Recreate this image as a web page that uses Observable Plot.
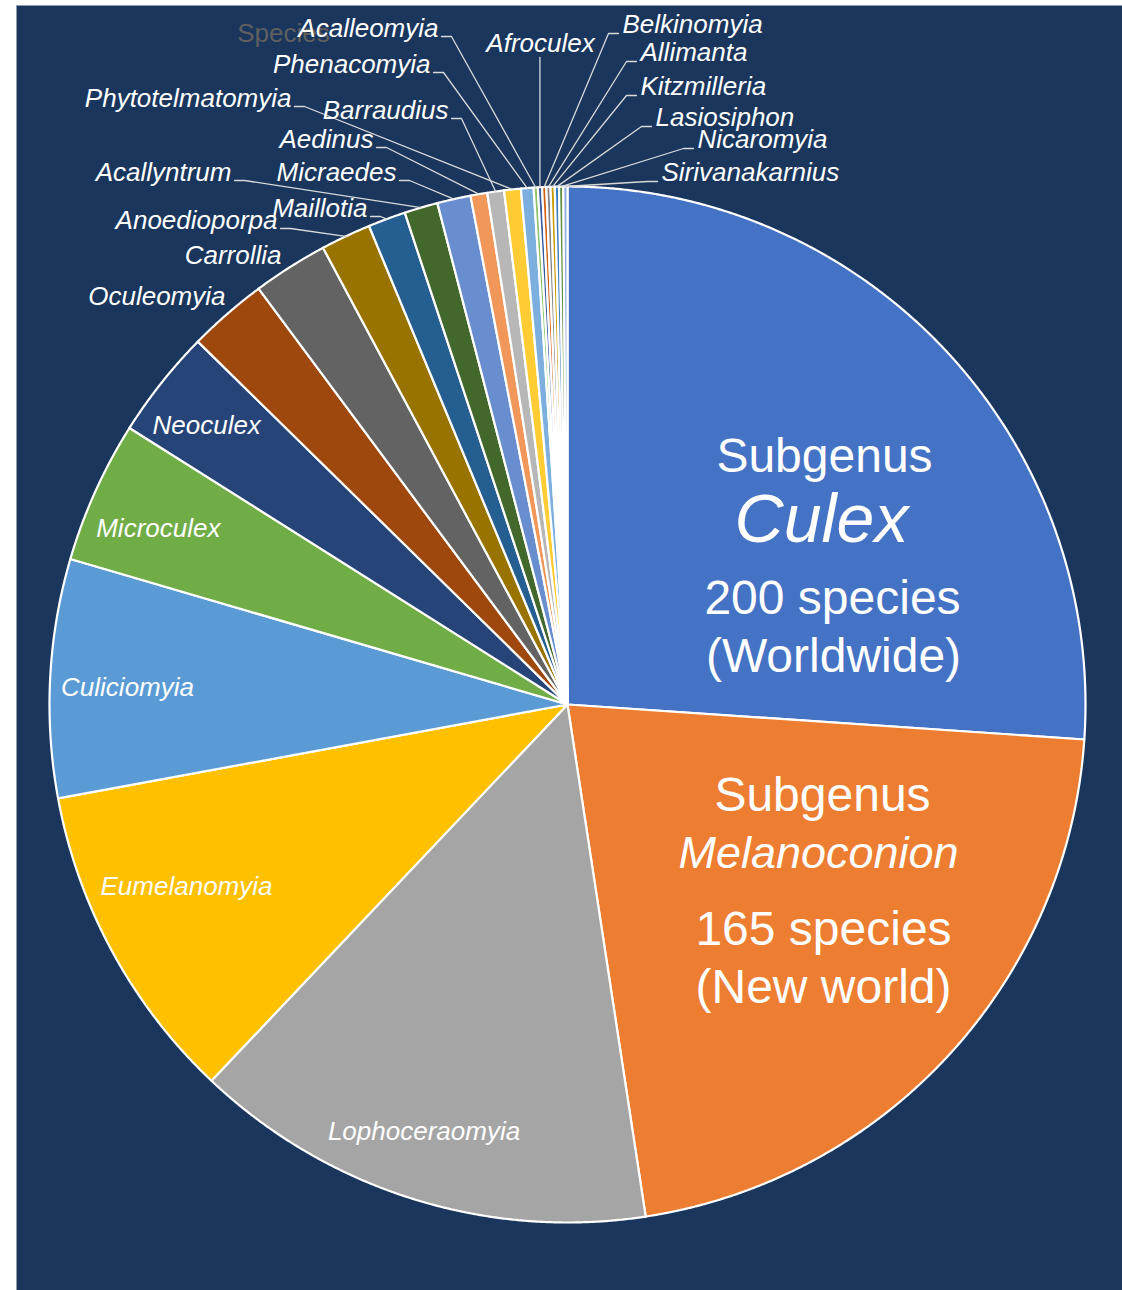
<!DOCTYPE html>
<html>
<head>
<meta charset="utf-8">
<script src="https://cdn.jsdelivr.net/npm/d3@7"></script>
<script src="https://cdn.jsdelivr.net/npm/@observablehq/plot@0.6"></script>
<style>
  html, body { margin: 0; padding: 0; background: #ffffff; }
  #chart svg { display: block; }
</style>
</head>
<body>
<div id="chart"></div>
<script>
// Subgenera of the genus Culex and their number of described species
const subgenera = [
  "Culex", "Melanoconion", "Lophoceraomyia", "Eumelanomyia", "Culiciomyia",
  "Microculex", "Neoculex", "Oculeomyia", "Carrollia", "Anoedioporpa",
  "Maillotia", "Acallyntrum", "Micraedes", "Aedinus", "Barraudius",
  "Phytotelmatomyia", "Phenacomyia", "Acalleomyia", "Afroculex", "Belkinomyia",
  "Allimanta", "Kitzmilleria", "Lasiosiphon", "Nicaromyia", "Sirivanakarnius"
];
const species = [200, 165, 111, 77, 57, 34, 26, 19, 18, 12, 9, 8, 8, 4, 4, 4, 3, 1, 1, 1, 1, 1, 1, 1, 1];
const ranges = { Culex: "Worldwide", Melanoconion: "New world" };
const seriesName = "Species";

// Office-style slice palette, in slice order
const sliceColors = [
  "#4472C4", "#ED7D31", "#A5A5A5", "#FFC000", "#5B9BD5", "#70AD47", "#264478",
  "#9E480E", "#636363", "#997300", "#255E91", "#43682B", "#698ED0", "#F1975A",
  "#B7B7B7", "#FFCD33", "#7CAFDD", "#8CC168", "#335AA1", "#D26012", "#848484",
  "#CC9A00", "#3A7DBF", "#5E8E3E", "#8FAADC"
];

// ---- layout -------------------------------------------------------------
const W = 1122, H = 1290;
const CX = 567, CY = 704, R = 518;          // pie centre and radius (px)
const BG = "#1a365d";
const FONT = "'Liberation Sans', Arial, sans-serif";
const LABEL_SIZE = 26;
const px = (x, y) => ({x: x - CX, y: CY - y}); // page px -> chart units

// labels drawn inside their slices: radius fraction and small angular nudge (deg)
const insideLabels = [
  {name: "Lophoceraomyia", r: 0.87, nudge: 1.2},
  {name: "Eumelanomyia", r: 0.815, nudge: 3},
  {name: "Culiciomyia", r: 0.85, nudge: -0.7},
  {name: "Microculex", r: 0.86, nudge: -1},
  {name: "Neoculex", r: 0.88, nudge: -0.7}
];
// labels set outside the pie: anchor position on the page and text alignment
const outsideLabels = [
  {name: "Oculeomyia", x: 225, y: 296, anchor: "end", leader: false},
  {name: "Carrollia", x: 281, y: 255, anchor: "end", leader: false},
  {name: "Anoedioporpa", x: 277, y: 220, anchor: "end", leader: true},
  {name: "Maillotia", x: 367, y: 208, anchor: "end", leader: true},
  {name: "Acallyntrum", x: 231, y: 172, anchor: "end", leader: true},
  {name: "Micraedes", x: 396, y: 172, anchor: "end", leader: true},
  {name: "Aedinus", x: 373, y: 139, anchor: "end", leader: true},
  {name: "Barraudius", x: 448, y: 110, anchor: "end", leader: true},
  {name: "Phytotelmatomyia", x: 291, y: 98, anchor: "end", leader: true},
  {name: "Phenacomyia", x: 430, y: 64, anchor: "end", leader: true},
  {name: "Acalleomyia", x: 438, y: 28, anchor: "end", leader: true},
  {name: "Afroculex", x: 540, y: 43, anchor: "middle", leader: true},
  {name: "Belkinomyia", x: 622, y: 24, anchor: "start", leader: true},
  {name: "Allimanta", x: 640, y: 52, anchor: "start", leader: true},
  {name: "Kitzmilleria", x: 640, y: 86, anchor: "start", leader: true},
  {name: "Lasiosiphon", x: 655, y: 117, anchor: "start", leader: true},
  {name: "Nicaromyia", x: 697, y: 139, anchor: "start", leader: true},
  {name: "Sirivanakarnius", x: 661, y: 172, anchor: "start", leader: true}
];
// text blocks for the two largest subgenera
const headline = [
  {name: "Culex", lines: [
    {kind: "sub", x: 824, y: 456}, {kind: "name", x: 821, y: 520, size: 68},
    {kind: "count", x: 832, y: 598}, {kind: "range", x: 833, y: 656}]},
  {name: "Melanoconion", lines: [
    {kind: "sub", x: 822, y: 795}, {kind: "name", x: 818, y: 853, size: 45},
    {kind: "count", x: 823, y: 929}, {kind: "range", x: 823, y: 987}]}
];

// ---- geometry from the data ------------------------------------------------
const rows = subgenera.map((name, i) => ({name, count: species[i], color: sliceColors[i]}));
const arcs = d3.pie().sort(null).value(d => d.count).startAngle(0).endAngle(2 * Math.PI)(rows);
const arcByName = new Map(arcs.map(a => [a.data.name, a]));
const polar = (a, r) => ({x: r * Math.sin(a), y: r * Math.cos(a)});
const midAngle = a => (a.startAngle + a.endAngle) / 2;

const slices = arcs.map(a => {
  const pts = [{x: 0, y: 0}];
  const n = Math.max(2, Math.ceil((a.endAngle - a.startAngle) / (Math.PI / 900)));
  for (let k = 0; k <= n; k++) pts.push(polar(a.startAngle + (a.endAngle - a.startAngle) * k / n, R));
  return {name: a.data.name, color: a.data.color, pts};
});

const insideText = insideLabels.map(l => {
  const a = arcByName.get(l.name);
  const p = polar(midAngle(a) + l.nudge * Math.PI / 180, R * l.r);
  return {...p, text: l.name};
});

const outsideText = outsideLabels.map(l => ({...px(l.x, l.y), text: l.name, anchor: l.anchor}));

// leader lines: short horizontal elbow next to the label, then on to the slice's arc midpoint
const leaders = [];
for (const l of outsideLabels.filter(d => d.leader)) {
  const tip = polar(midAngle(arcByName.get(l.name)), R);
  let pts;
  if (l.anchor === "end") pts = [px(l.x + 3, l.y + 8), px(l.x + 13, l.y + 8), tip];
  else if (l.anchor === "start") pts = [px(l.x - 4, l.y + 9), px(l.x - 14, l.y + 9), tip];
  else pts = [{x: tip.x, y: px(0, l.y + 14).y}, tip];
  pts.forEach(p => leaders.push({...p, name: l.name}));
}

const headlineText = [];
for (const h of headline) {
  const count = species[subgenera.indexOf(h.name)];
  for (const ln of h.lines) {
    const text = ln.kind === "sub" ? "Subgenus"
      : ln.kind === "name" ? h.name
      : ln.kind === "count" ? `${count} species`
      : `(${ranges[h.name]})`;
    headlineText.push({...px(ln.x, ln.y), text, italic: ln.kind === "name", size: ln.size || 48});
  }
}

// ---- chart -----------------------------------------------------------------
const textBase = {x: "x", y: "y", text: "text", fill: "white", fontFamily: FONT};

const chart = Plot.plot({
  width: W,
  height: H,
  marginLeft: 16,
  marginTop: 5,
  marginRight: 0,
  marginBottom: 0,
  x: {domain: [16 - CX, W - CX], axis: null},
  y: {domain: [CY - H, CY - 5], axis: null},
  style: {background: "#ffffff", fontFamily: FONT, overflow: "visible"},
  marks: [
    Plot.frame({fill: BG, stroke: "#8a9bb0", strokeWidth: 0.6}),
    ...slices.map(s => Plot.line(s.pts, {
      x: "x", y: "y", fill: s.color, stroke: "white", strokeWidth: 2.2,
      strokeLinejoin: "round", curve: "linear-closed"
    })),
    Plot.line(leaders, {x: "x", y: "y", z: "name", stroke: "#d9d9d9", strokeWidth: 1.3}),
    Plot.text([{...px(283, 33), text: seriesName}], {
      x: "x", y: "y", text: "text", fill: "#5f5f5f", fontSize: 26, fontFamily: FONT
    }),
    Plot.text(insideText, {...textBase, fontSize: LABEL_SIZE, fontStyle: "italic"}),
    Plot.text(outsideText.filter(d => d.anchor === "end"), {...textBase, fontSize: LABEL_SIZE, fontStyle: "italic", textAnchor: "end"}),
    Plot.text(outsideText.filter(d => d.anchor === "start"), {...textBase, fontSize: LABEL_SIZE, fontStyle: "italic", textAnchor: "start"}),
    Plot.text(outsideText.filter(d => d.anchor === "middle"), {...textBase, fontSize: LABEL_SIZE, fontStyle: "italic"}),
    ...headlineText.map(t => Plot.text([t], {
      ...textBase, fontSize: t.size, fontStyle: t.italic ? "italic" : "normal"
    }))
  ]
});

document.getElementById("chart").append(chart);
</script>
</body>
</html>
